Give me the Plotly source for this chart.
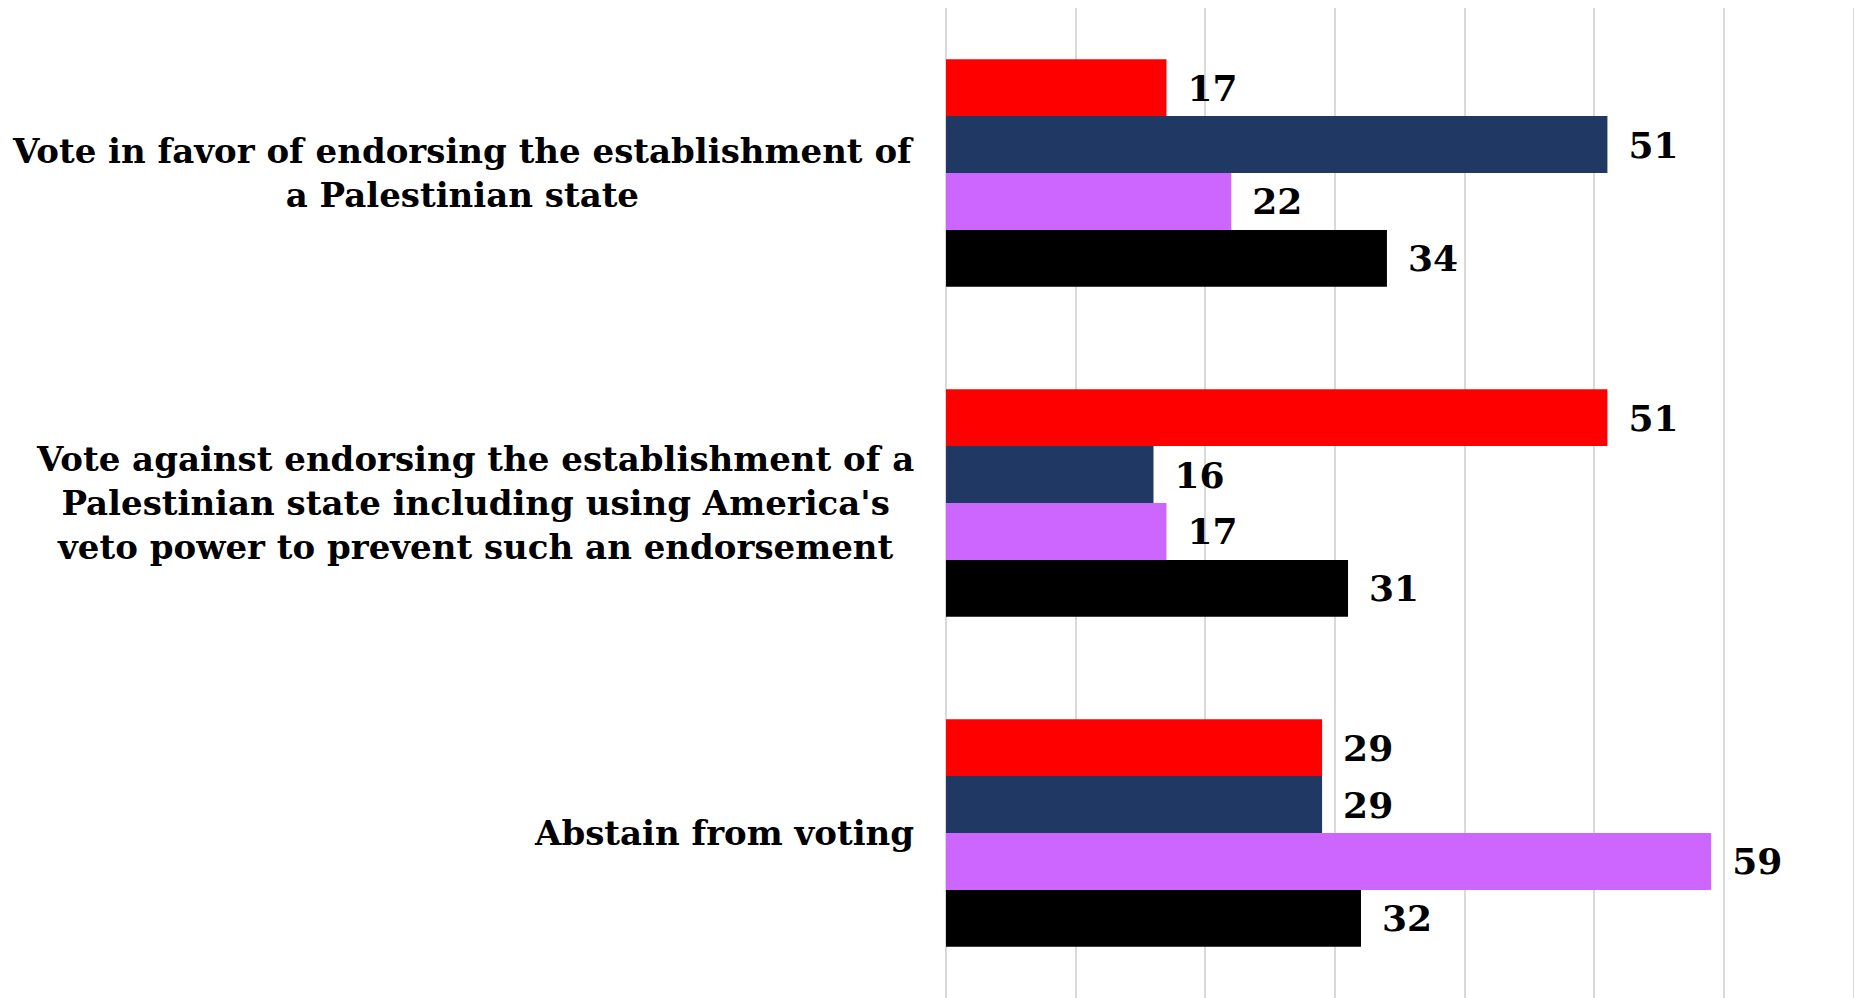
import plotly.graph_objects as go

categories = [
    "Vote in favor of endorsing the establishment of<br>a Palestinian state",
    "Vote against endorsing the establishment of a<br>Palestinian state including using America's<br>veto power to prevent such an endorsement",
    "Abstain from voting",
]
series_names = ["Series 1", "Series 2", "Series 3", "Series 4"]
series_values = [
    [17, 51, 29],
    [51, 16, 29],
    [22, 17, 59],
    [34, 31, 32],
]
series_colors = ["#FF0000", "#203864", "#CC66FF", "#000000"]

FONT = "DejaVu Serif"

fig = go.Figure()
for name, vals, col in zip(series_names, series_values, series_colors):
    fig.add_trace(go.Bar(
        y=categories, x=vals, orientation="h", name=name,
        marker=dict(color=col, line=dict(width=0)),
        text=vals, texttemplate="\u2002<b>%{x}</b>", textposition="outside",
        textfont=dict(family=FONT, size=36, color="#000000"),
        cliponaxis=False,
    ))

for c in categories:
    fig.add_annotation(
        xref="paper", yref="y", x=0, y=c, text="<b>" + c + "</b>",
        xanchor="right", yanchor="middle", align="center", xshift=-30,
        showarrow=False, font=dict(family=FONT, size=34, color="#000000"),
    )

# page body has an 8px default margin, so the figure is sized to fit the window
fig.update_layout(
    width=1854, height=990,
    margin=dict(l=938, r=3, t=0, b=0),
    barmode="group", bargap=0.31, bargroupgap=0,
    plot_bgcolor="white", paper_bgcolor="white",
    showlegend=False,
    font=dict(family=FONT, color="#000000"),
)
fig.update_xaxes(range=[0, 70.4], dtick=10, tick0=0, showgrid=True, gridcolor="#D9D9D9",
                 gridwidth=1.5, showticklabels=False, zeroline=True,
                 zerolinecolor="#D9D9D9", zerolinewidth=1.5, showline=False, ticks="")
fig.update_yaxes(autorange="reversed", showticklabels=False, showgrid=False,
                 ticks="", showline=False)

fig.write_html("out.html")
